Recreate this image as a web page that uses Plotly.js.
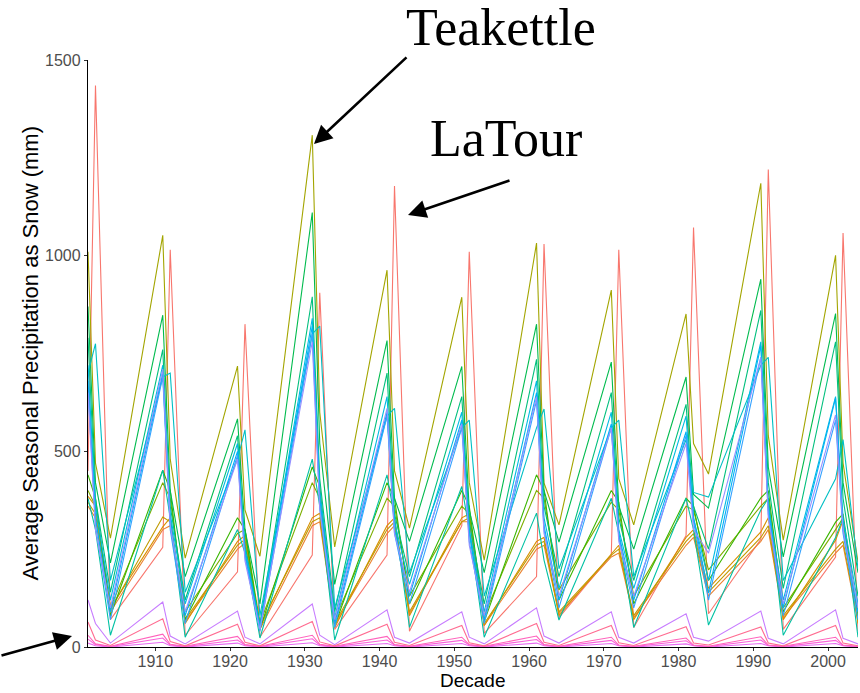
<!DOCTYPE html>
<html>
<head>
<meta charset="utf-8">
<script src="https://cdn.plot.ly/plotly-3.0.1.min.js"></script>
<style>html,body{margin:0;padding:0;background:#fff;}#chart{width:860px;height:693px;}</style>
</head>
<body>
<div id="chart"></div>
<script>
// x positions (three readings per decade)
const years = [1901,1902,1904, 1911,1912,1914, 1921,1922,1924, 1931,1932,1934, 1941,1942,1944, 1951,1952,1954, 1961,1962,1964, 1971,1972,1974, 1981,1982,1984, 1991,1992,1994, 2001,2002,2004];

// site series (mm)
const latour   = [450,1435,70, 255,1015,30, 192,825,25, 235,905,45, 235,1178,40, 310,1010,35, 180,1030,75, 235,1015,50, 285,1072,85, 275,1220,45, 230,1058,40];
const siteEA   = [360,330,90, 300,310,65, 250,265,45, 310,320,55, 290,310,85, 320,320,55, 250,260,85, 230,240,75, 260,280,130, 270,300,75, 240,260,65];
const siteD8   = [385,360,100, 307,330,60, 270,285,50, 330,342,50, 310,330,80, 330,340,55, 270,280,80, 240,260,70, 280,300,150, 294,330,70, 273,324,60];
const siteC0   = [370,340,95, 332,320,70, 260,275,55, 320,330,60, 300,320,90, 320,330,60, 260,270,90, 235,250,80, 270,290,140, 280,310,80, 250,270,70];
const teakettle= [1010,470,278, 1052,480,227, 718,350,232, 1308,600,256, 963,450,304, 894,420,222, 1032,419,312, 912,430,312, 851,520,442, 1185,540,273, 1001,470,217];
const site7C   = [400,360,100, 420,380,90, 290,300,60, 420,380,70, 380,360,130, 360,340,80, 400,380,146, 370,350,130, 360,350,197, 360,380,100, 300,330,80];
const site39   = [440,380,80, 452,400,70, 330,300,45, 460,410,55, 420,380,110, 400,360,65, 440,400,120, 400,370,110, 380,360,170, 381,400,90, 319,340,70];
const site00BB = [870,420,215, 848,400,180, 583,300,110, 1110,520,160, 783,380,270, 717,350,190, 825,400,268, 728,360,250, 690,390,355, 940,460,230, 852,420,190];
const site00BF = [790,380,140, 760,360,120, 540,260,60, 895,430,90, 700,340,180, 640,320,110, 735,360,180, 650,330,170, 620,360,250, 860,420,150, 780,380,130];
const site00C1 = [380,300,30, 452,330,25, 300,240,23, 480,360,18, 440,330,50, 410,300,25, 342,222,69, 380,290,50, 380,300,56, 350,380,30, 280,330,25];
const siteCyan = [700,775,170, 690,700,140, 480,555,80, 800,820,100, 590,610,190, 560,580,130, 560,608,200, 560,580,180, 530,395,383, 720,740,170, 430,530,200];
const siteBA   = [720,360,120, 720,340,110, 520,250,55, 840,400,75, 640,320,160, 600,300,90, 680,330,150, 600,300,150, 590,330,170, 780,360,120, 640,330,110];
const siteB0   = [680,330,90, 700,320,80, 500,240,50, 820,380,60, 600,300,130, 580,290,70, 650,310,120, 570,290,120, 550,330,138, 770,350,100, 636,300,90];
const site35   = [660,310,70, 690,300,60, 490,230,40, 800,360,50, 590,290,110, 560,270,60, 630,300,100, 560,280,100, 540,320,120, 740,340,80, 580,290,70];
const site95   = [650,300,100, 710,310,90, 480,220,45, 780,350,70, 610,290,140, 570,260,80, 640,290,130, 560,270,130, 520,300,240, 740,330,110, 593,300,100];
const siteC7   = [120,60,10, 115,28,8, 92,25,8, 110,30,6, 95,25,10, 90,25,8, 100,28,10, 90,25,10, 85,25,15, 92,22,8, 95,22,8];
const siteE7   = [10,3,0, 12,3,0, 10,3,0, 11,3,0, 9,3,0, 9,3,0, 10,3,0, 9,3,0, 8,3,0, 9,3,0, 9,3,0];
const siteFA   = [20,6,1, 23,5,1, 18,5,1, 21,5,1, 18,5,1, 17,5,1, 19,5,1, 17,4,1, 16,4,1, 18,4,1, 17,4,1];
const siteFF62 = [30,8,2, 33,7,2, 27,6,2, 30,7,2, 27,6,2, 25,6,2, 28,6,2, 25,5,2, 23,5,2, 26,5,2, 25,5,2];
const siteFF6C = [64,18,4, 72,14,3, 58,12,3, 65,13,3, 58,12,4, 55,11,3, 60,12,4, 55,11,4, 52,10,5, 51,10,3, 55,10,3];

const series = [latour, siteEA, siteD8, siteC0, teakettle, site7C, site39, site00BB, site00BF, site00C1,
                siteCyan, siteBA, siteB0, site35, site95, siteC7, siteE7, siteFA, siteFF62, siteFF6C];
const colors = ['#F8766D','#EA8331','#D89000','#C09B00','#A3A500','#7CAE00','#39B600','#00BB4E','#00BF7D','#00C1A3',
                '#00BFC4','#00BAE0','#00B0F6','#35A2FF','#9590FF','#C77CFF','#E76BF3','#FA62DB','#FF62BC','#FF6C91'];

const xTicks = [1910,1920,1930,1940,1950,1960,1970,1980,1990,2000];
const yTicks = [0, 500, 1000, 1500];

const traces = series.map((s, i) => ({
  x: years, y: s, type: 'scatter', mode: 'lines',
  line: {color: colors[i], width: 1.1}, hoverinfo: 'skip', showlegend: false
}));

const sans = 'Liberation Sans, Arial, sans-serif';
const serif = 'Liberation Serif, Times New Roman, serif';

const layout = {
  width: 860, height: 693,
  margin: {l: 88, r: 2, t: 60, b: 46},
  paper_bgcolor: '#fff', plot_bgcolor: '#fff',
  showlegend: false,
  font: {family: sans},
  xaxis: {
    range: [1901, 2004], tickvals: xTicks,
    ticks: 'outside', ticklen: 3, tickcolor: '#333', tickwidth: 1, ticklabelstandoff: -3,
    showline: true, linecolor: '#000', linewidth: 1.2, showgrid: false, zeroline: false,
    tickfont: {size: 16, color: '#4D4D4D', family: sans}
  },
  yaxis: {
    range: [0, 1500], tickvals: yTicks,
    ticks: 'outside', ticklen: 3, tickcolor: '#333', tickwidth: 1,
    showline: true, linecolor: '#000', linewidth: 1.2, showgrid: false, zeroline: false,
    tickfont: {size: 16, color: '#4D4D4D', family: sans}
  },
  annotations: [
    {xref: 'paper', yref: 'paper', x: 0.5, y: -0.0767, text: 'Decade', showarrow: false, borderpad: 0,
     font: {family: sans, size: 19, color: '#000'}, xanchor: 'center', yanchor: 'bottom'},
    {xref: 'paper', yref: 'paper', x: -0.0753, y: 0.5, text: 'Average Seasonal Precipitation as Snow (mm)', showarrow: false,
     textangle: -90, font: {family: sans, size: 22, color: '#000'}, xanchor: 'center', yanchor: 'middle'},
    {xref: 'paper', yref: 'paper', x: 0.536, y: 1.056, text: 'Teakettle', showarrow: false,
     font: {family: serif, size: 52, color: '#000'}, xanchor: 'center', yanchor: 'middle'},
    {xref: 'paper', yref: 'paper', x: 0.543, y: 0.866, text: 'LaTour', showarrow: false,
     font: {family: serif, size: 52, color: '#000'}, xanchor: 'center', yanchor: 'middle'},
    {xref: 'paper', yref: 'paper', x: 0.2935, y: 0.857, ax: 94, ay: -88, axref: 'pixel', ayref: 'pixel',
     text: '', showarrow: true, arrowhead: 2, arrowsize: 1.4, arrowwidth: 2.6, arrowcolor: '#000'},
    {xref: 'paper', yref: 'paper', x: 0.4156, y: 0.736, ax: 103, ay: -35, axref: 'pixel', ayref: 'pixel',
     text: '', showarrow: true, arrowhead: 2, arrowsize: 1.4, arrowwidth: 2.6, arrowcolor: '#000'},
    {xref: 'paper', yref: 'paper', x: -0.0208, y: 0.0187, ax: -76, ay: 20, axref: 'pixel', ayref: 'pixel',
     text: '', showarrow: true, arrowhead: 2, arrowsize: 1.4, arrowwidth: 2.6, arrowcolor: '#000'}
  ]
};

Plotly.newPlot('chart', traces, layout, {displayModeBar: false, staticPlot: true});
</script>
</body>
</html>
